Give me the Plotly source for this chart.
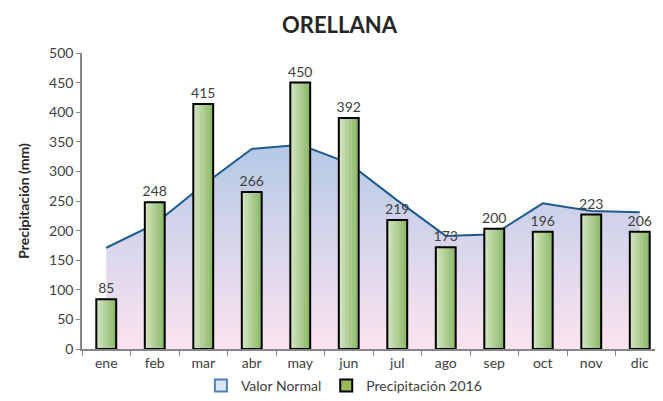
import plotly.graph_objects as go

months = ["ene", "feb", "mar", "abr", "may", "jun", "jul", "ago", "sep", "oct", "nov", "dic"]
normal = [171, 211, 277, 338, 345, 314, 251, 191, 194, 246, 233, 231]
precip_2016 = [84, 248, 414, 265, 450, 390, 218, 172, 203, 198, 227, 198]
precip_labels = ["85", "248", "415", "266", "450", "392", "219", "173", "200", "196", "223", "206"]
y_ticks = [0, 50, 100, 150, 200, 250, 300, 350, 400, 450, 500]

FONT = "Lato"
TXT = "#404040"
BAR_W = 0.41

fig = go.Figure()

# area (normal values) on main axes
fig.add_trace(go.Scatter(
    x=months, y=normal, name="Valor Normal", mode="lines", showlegend=False,
    line=dict(color="#1f5a8e", width=2),
    fill="tozeroy",
    fillgradient=dict(type="vertical", start=0, stop=345,
                      colorscale=[[0, "#fbe3ef"], [0.5, "#d9d6ec"], [1, "#b3c9e5"]]),
))

# bars on overlaying axes so they are drawn on top; horizontal gradient by layering
grad = ["#8fba6d", "#9cc27c", "#a9ca8c", "#b6d29c", "#c3daac", "#d0e3bd"]
n = len(grad)
for i, c in enumerate(grad):
    w = BAR_W * (n - i) / n
    fig.add_trace(go.Bar(
        x=months, y=precip_2016, xaxis="x2", yaxis="y2", showlegend=False,
        width=w, offset=-BAR_W / 2,
        marker=dict(color=c, line=dict(width=0)), hoverinfo="skip",
    ))
fig.add_trace(go.Bar(
    x=months, y=precip_2016, xaxis="x2", yaxis="y2", showlegend=False,
    name="Precipitación 2016", width=BAR_W, offset=-BAR_W / 2,
    marker=dict(color="rgba(0,0,0,0)", line=dict(color="#000000", width=2)),
    text=precip_labels, textposition="outside", constraintext="none",
    textfont=dict(family=FONT, size=14, color=TXT),
    cliponaxis=False,
))

# legend entries
fig.add_trace(go.Scatter(
    x=[None], y=[None], mode="markers", name="Valor Normal",
    marker=dict(symbol="square", size=9, color="#dce6f2", line=dict(color="#4f81bd", width=1.5)),
))
fig.add_trace(go.Scatter(
    x=[None], y=[None], mode="markers", name="Precipitación 2016",
    marker=dict(symbol="square", size=9, color="#9bbb59", line=dict(color="#000000", width=1.5)),
))

fig.update_layout(
    width=663, height=401,
    margin=dict(l=74, r=7, t=45, b=48),
    paper_bgcolor="white", plot_bgcolor="white",
    font=dict(family=FONT, size=14, color=TXT),
    title=dict(text="<b>ORELLANA</b>", x=0.5, xanchor="center", y=0.958, yanchor="middle",
               font=dict(family=FONT, size=22, color="#262626")),
    showlegend=True,
    legend=dict(orientation="h", x=0.45, xanchor="center", y=-0.125, yanchor="middle",
                font=dict(family=FONT, size=14, color=TXT), traceorder="normal",
                itemwidth=30, tracegroupgap=0, itemsizing="constant"),
    barmode="overlay",
    xaxis2=dict(overlaying="x", visible=False, categoryorder="array", categoryarray=months,
                range=[-0.5, len(months) - 0.5]),
    yaxis2=dict(overlaying="y", visible=False, range=[0, 500]),
)

fig.update_layout(yaxis=dict(
    range=[0, 500], tickvals=y_ticks, showgrid=False, zeroline=False,
    showline=True, linecolor="#868686", linewidth=1.5,
    ticks="outside", ticklen=4, tickcolor="#868686",
    tickfont=dict(family=FONT, size=14, color=TXT),
    title=dict(text="<b>Precipitación (mm)</b>", font=dict(family=FONT, size=14, color="#262626"), standoff=16),
))
fig.update_layout(xaxis=dict(
    showgrid=False, showline=True, linecolor="#868686", linewidth=1.5,
    ticks="outside", ticklen=5, tickcolor="#868686", tickson="boundaries",
    categoryorder="array", categoryarray=months, range=[-0.5, len(months) - 0.5],
    tickfont=dict(family=FONT, size=14, color=TXT),
))

fig.write_html("out.html")
